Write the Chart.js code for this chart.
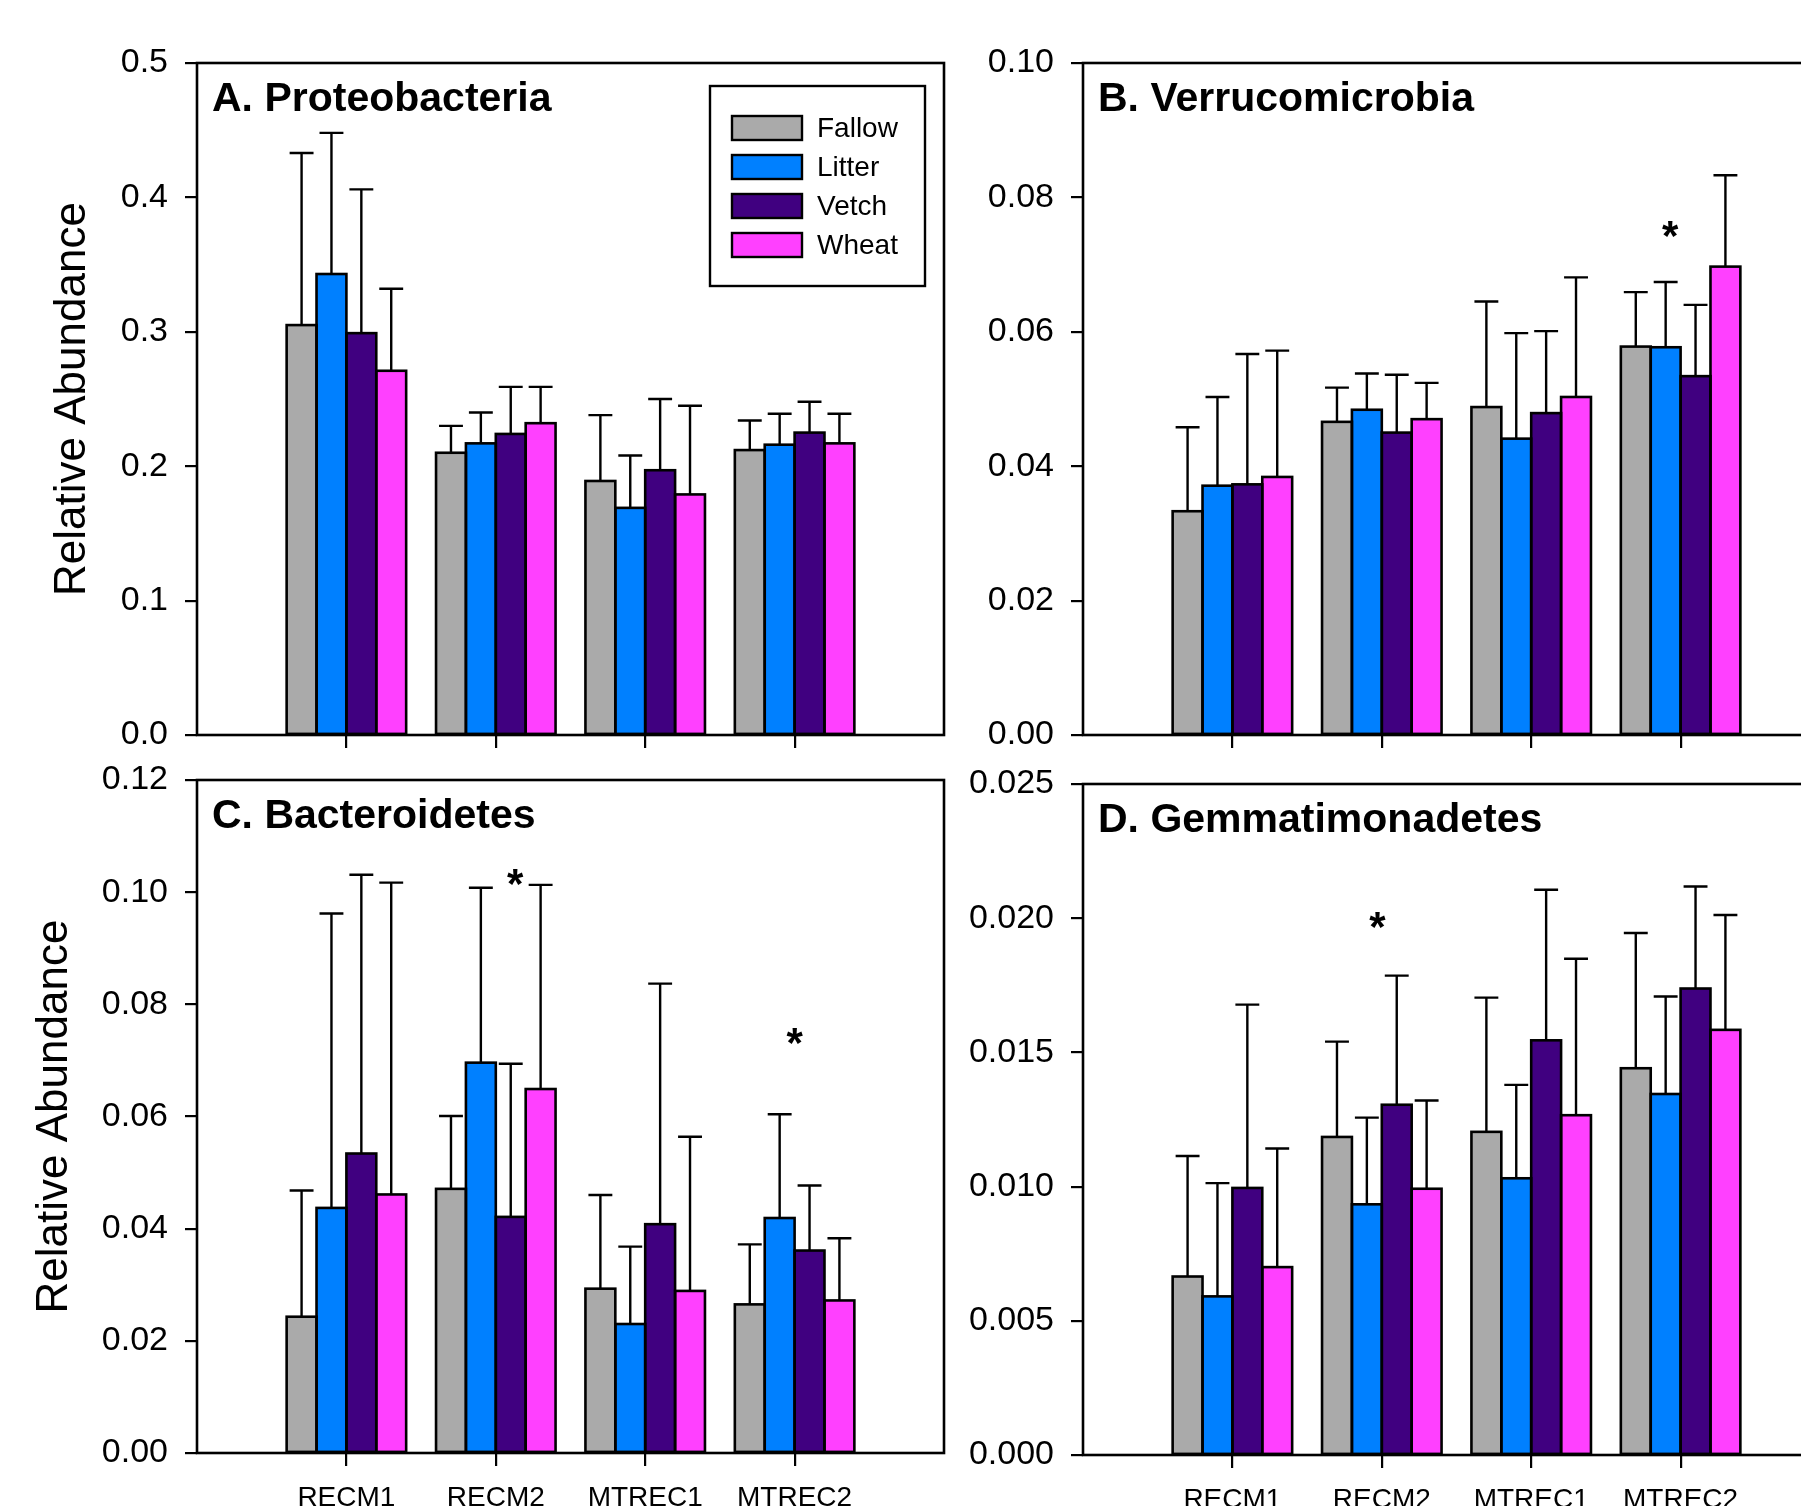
<!DOCTYPE html>
<html>
<head>
<meta charset="utf-8">
<title>Relative abundance by phylum</title>
<script src="https://cdn.jsdelivr.net/npm/chart.js@4.4.1/dist/chart.umd.min.js"></script>
<style>
  html, body { margin: 0; padding: 0; background: #fff; overflow: hidden; }
  #page { position: relative; width: 1801px; height: 1506px; overflow: hidden; background: #fff; }
  #page canvas { position: absolute; }
</style>
</head>
<body>
<div id="page">
  <canvas id="chartA" width="960" height="760" style="left:0px;top:0px"></canvas>
  <canvas id="chartB" width="900" height="760" style="left:960px;top:0px"></canvas>
  <canvas id="chartC" width="960" height="746" style="left:0px;top:760px"></canvas>
  <canvas id="chartD" width="900" height="746" style="left:960px;top:760px"></canvas>
</div>
<script>
// categories and treatments
const categories = ['RECM1', 'RECM2', 'MTREC1', 'MTREC2'];
const treatments = ['Fallow', 'Litter', 'Vetch', 'Wheat'];
const treatmentColors = ['#AAAAAA', '#0080FF', '#400080', '#FF40FF'];

// A. Proteobacteria - one row per treatment, one value per category
const proteoMean = [
  [0.305, 0.210, 0.189, 0.212],
  [0.343, 0.217, 0.169, 0.216],
  [0.299, 0.224, 0.197, 0.225],
  [0.271, 0.232, 0.179, 0.217]
];
// top of the error bar
const proteoUpper = [
  [0.433, 0.230, 0.238, 0.234],
  [0.448, 0.240, 0.208, 0.239],
  [0.406, 0.259, 0.250, 0.248],
  [0.332, 0.259, 0.245, 0.239]
];
const proteoTicks = [0.0, 0.1, 0.2, 0.3, 0.4, 0.5];

// B. Verrucomicrobia
const verruMean = [
  [0.0333, 0.0466, 0.0488, 0.0578],
  [0.0371, 0.0484, 0.0441, 0.0577],
  [0.0373, 0.0450, 0.0479, 0.0534],
  [0.0384, 0.0470, 0.0503, 0.0697]
];
const verruUpper = [
  [0.0458, 0.0517, 0.0645, 0.0659],
  [0.0503, 0.0538, 0.0598, 0.0674],
  [0.0567, 0.0536, 0.0601, 0.0640],
  [0.0572, 0.0524, 0.0681, 0.0833]
];
const verruTicks = [0.00, 0.02, 0.04, 0.06, 0.08, 0.10];
const verruStars = [{ cat: 'MTREC2', shift: -0.07, value: 0.0756 }];

// C. Bacteroidetes
const bactMean = [
  [0.0243, 0.0471, 0.0293, 0.0265],
  [0.0437, 0.0696, 0.0230, 0.0419],
  [0.0534, 0.0421, 0.0408, 0.0361],
  [0.0461, 0.0649, 0.0289, 0.0272]
];
const bactUpper = [
  [0.0468, 0.0601, 0.0460, 0.0372],
  [0.0962, 0.1008, 0.0368, 0.0604],
  [0.1031, 0.0694, 0.0837, 0.0477],
  [0.1017, 0.1013, 0.0564, 0.0383]
];
const bactTicks = [0.00, 0.02, 0.04, 0.06, 0.08, 0.10, 0.12];
const bactStars = [
  { cat: 'RECM2', shift: 0.13, value: 0.103 },
  { cat: 'MTREC2', shift: 0.0, value: 0.0747 }
];

// D. Gemmatimonadetes
const gemmMean = [
  [0.00665, 0.01185, 0.01204, 0.01441],
  [0.00591, 0.00934, 0.01031, 0.01345],
  [0.00995, 0.01305, 0.01545, 0.01738],
  [0.00700, 0.00992, 0.01266, 0.01584]
];
const gemmUpper = [
  [0.01114, 0.01540, 0.01704, 0.01945],
  [0.01013, 0.01257, 0.01379, 0.01708],
  [0.01678, 0.01786, 0.02106, 0.02118],
  [0.01142, 0.01321, 0.01849, 0.02012]
];
const gemmTicks = [0.000, 0.005, 0.010, 0.015, 0.020, 0.025];
const gemmStars = [{ cat: 'RECM2', shift: -0.03, value: 0.0200 }];

const FONT = "'Liberation Sans', Arial, Helvetica, sans-serif";
Chart.defaults.font.family = FONT;
Chart.defaults.color = '#000';

// empty slot on each side so the groups sit at 1..4 of 0..5
const axisLabels = ['', ...categories, ''];
function pad(row) { return [null, ...row, null]; }

// upper error bars + black outlines on each bar
const errorBars = {
  id: 'errorBars',
  afterDatasetsDraw(chart) {
    const ctx = chart.ctx;
    const yScale = chart.scales.y;
    ctx.save();
    ctx.strokeStyle = '#000';
    chart.data.datasets.forEach((ds, i) => {
      chart.getDatasetMeta(i).data.forEach((bar, j) => {
        if (ds.data[j] == null) return;
        const p = bar.getProps(['x', 'y', 'base', 'width'], true);
        const yTop = yScale.getPixelForValue(ds.upper[j]);
        ctx.lineWidth = 2.4;
        ctx.beginPath();
        ctx.moveTo(p.x, p.y);
        ctx.lineTo(p.x, yTop);
        ctx.moveTo(p.x - p.width * 0.4, yTop);
        ctx.lineTo(p.x + p.width * 0.4, yTop);
        ctx.stroke();
        ctx.lineWidth = 2.6;
        ctx.strokeRect(p.x - p.width / 2, p.y, p.width, p.base - p.y);
      });
    });
    ctx.restore();
  }
};

// frame, panel title, asterisks, legend
const panelDecor = {
  id: 'panelDecor',
  afterDraw(chart, args, opts) {
    const ctx = chart.ctx;
    const area = chart.chartArea;
    const xs = chart.scales.x, ys = chart.scales.y;
    ctx.save();
    ctx.strokeStyle = '#000';
    ctx.lineWidth = 2.6;
    ctx.strokeRect(area.left, area.top, area.right - area.left, area.bottom - area.top);

    ctx.fillStyle = '#000';
    ctx.font = 'bold 41px ' + FONT;
    ctx.textAlign = 'left';
    ctx.textBaseline = 'alphabetic';
    ctx.fillText(opts.title, area.left + 15, area.top + 48);

    ctx.font = 'bold 42px ' + FONT;
    ctx.textAlign = 'center';
    (opts.stars || []).forEach(s => {
      const x = xs.getPixelForValue(axisLabels.indexOf(s.cat) + s.shift);
      const y = ys.getPixelForValue(s.value);
      ctx.fillText('*', x, y + 23);
    });

    if (opts.legend) {
      const bx = area.right - 234, by = area.top + 23, bw = 215, bh = 200;
      ctx.fillStyle = '#fff';
      ctx.fillRect(bx, by, bw, bh);
      ctx.lineWidth = 2.4;
      ctx.strokeRect(bx, by, bw, bh);
      ctx.font = '28px ' + FONT;
      ctx.textAlign = 'left';
      ctx.textBaseline = 'middle';
      chart.data.datasets.forEach((ds, i) => {
        const sy = by + 30 + i * 39;
        ctx.fillStyle = ds.backgroundColor;
        ctx.fillRect(bx + 22, sy, 70, 24);
        ctx.strokeRect(bx + 22, sy, 70, 24);
        ctx.fillStyle = '#000';
        ctx.fillText(ds.label, bx + 107, sy + 13);
      });
    }
    ctx.restore();
  }
};

function makePanel(id, cfg) {
  const datasets = treatments.map((name, i) => ({
    label: name,
    data: pad(cfg.mean[i]),
    upper: pad(cfg.upper[i]),
    backgroundColor: treatmentColors[i],
    borderWidth: 0,
    categoryPercentage: 0.8,
    barPercentage: 1.0
  }));
  const ticks = cfg.ticks;
  return new Chart(document.getElementById(id), {
    type: 'bar',
    data: { labels: axisLabels, datasets: datasets },
    plugins: [errorBars, panelDecor],
    options: {
      responsive: false,
      animation: false,
      layout: { padding: { top: cfg.padTop, right: cfg.padRight, left: 0, bottom: 0 } },
      plugins: {
        legend: { display: false },
        tooltip: { enabled: false },
        panelDecor: { title: cfg.title, stars: cfg.stars, legend: cfg.legend }
      },
      scales: {
        x: {
          type: 'category',
          offset: false,
          border: { display: false },
          grid: {
            offset: false,
            drawOnChartArea: false,
            drawTicks: true,
            tickLength: 13,
            lineWidth: 2.2,
            color: (c) => (c.index === 0 || c.index === axisLabels.length - 1) ? 'rgba(0,0,0,0)' : '#000'
          },
          ticks: {
            display: cfg.showCats,
            autoSkip: false,
            maxRotation: 0,
            padding: 15,
            font: { size: 28 }
          },
          afterFit: (s) => {
            s.height = cfg.xHeight;
            s.paddingLeft = 0; s.paddingRight = 0;
          }
        },
        y: {
          min: ticks[0],
          max: ticks[ticks.length - 1],
          border: { display: false },
          grid: {
            drawOnChartArea: false,
            drawTicks: true,
            tickLength: 12,
            lineWidth: 2.2,
            color: '#000'
          },
          ticks: {
            stepSize: ticks[1] - ticks[0],
            padding: 17,
            font: { size: 34 },
            callback: (v) => v.toFixed(cfg.decimals)
          },
          title: {
            display: !!cfg.yTitle,
            text: cfg.yTitle || '',
            font: { size: 44 },
            padding: { top: cfg.yTitlePad || 0, bottom: 0 }
          },
          afterFit: (s) => {
            s.width = cfg.yWidth;
            // keep the plot box where the figure has it
            s.paddingTop = 0; s.paddingBottom = 0;
          }
        }
      }
    }
  });
}

makePanel('chartA', {
  title: 'A. Proteobacteria', mean: proteoMean, upper: proteoUpper, ticks: proteoTicks,
  decimals: 1, stars: [], legend: true, showCats: false,
  yTitle: 'Relative Abundance', yTitlePad: 46,
  padTop: 63, padRight: 16, yWidth: 197, xHeight: 25
});
makePanel('chartB', {
  title: 'B. Verrucomicrobia', mean: verruMean, upper: verruUpper, ticks: verruTicks,
  decimals: 2, stars: verruStars, legend: false, showCats: false,
  padTop: 63, padRight: 30, yWidth: 123, xHeight: 25
});
makePanel('chartC', {
  title: 'C. Bacteroidetes', mean: bactMean, upper: bactUpper, ticks: bactTicks,
  decimals: 2, stars: bactStars, legend: false, showCats: true,
  yTitle: 'Relative Abundance', yTitlePad: 28,
  padTop: 20, padRight: 16, yWidth: 197, xHeight: 53
});
makePanel('chartD', {
  title: 'D. Gemmatimonadetes', mean: gemmMean, upper: gemmUpper, ticks: gemmTicks,
  decimals: 3, stars: gemmStars, legend: false, showCats: true,
  padTop: 24, padRight: 30, yWidth: 123, xHeight: 51
});
</script>
</body>
</html>
